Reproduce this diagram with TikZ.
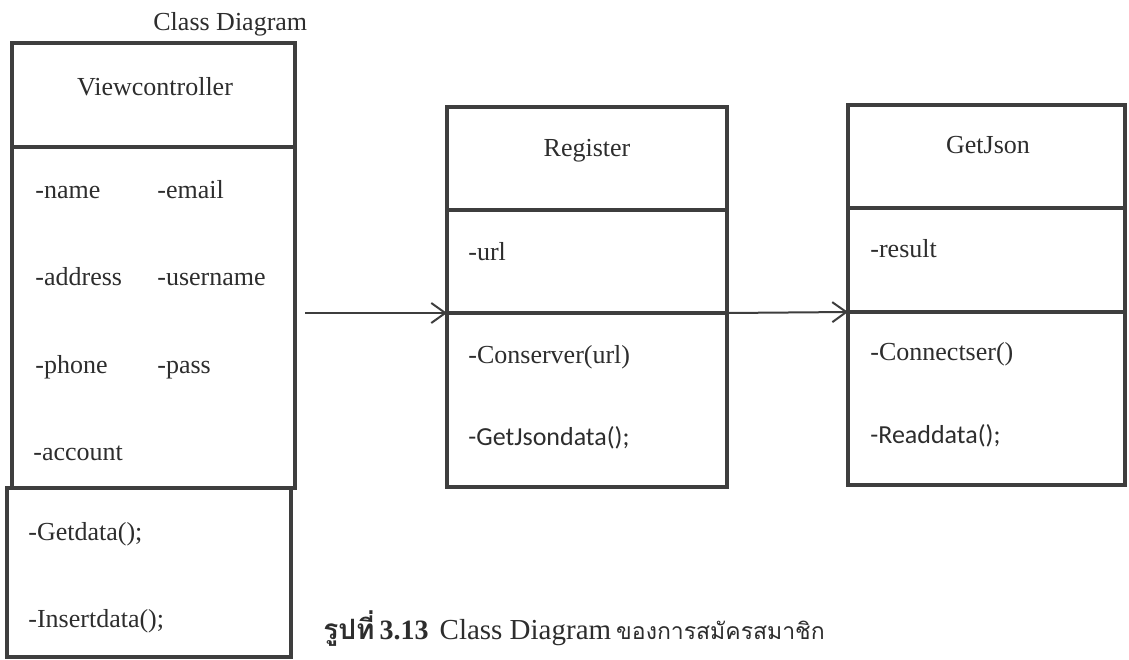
\documentclass[tikz,border=0pt]{standalone}
\usepackage{fontspec}
\setmainfont{Liberation Serif}
\newfontfamily\calibrifont{Carlito}
\newfontfamily\thaifont[Script=Thai]{Loma}
\usepackage{tikz}
\usetikzlibrary{positioning,arrows.meta}
\definecolor{linegray}{RGB}{62,62,62}
\definecolor{inkgray}{RGB}{45,45,45}

\begin{document}
\begin{tikzpicture}[x=0.5pt,y=-0.5pt,
  part/.style={draw=linegray, line width=2.3pt, rectangle, outer sep=0pt, inner sep=0pt, anchor=north west},
  member/.style={anchor=base west, inner sep=0pt, text=inkgray, font=\fontsize{13}{15}\selectfont},
  title/.style={anchor=base, inner sep=0pt, text=inkgray, font=\fontsize{13}{15}\selectfont},
  link/.style={draw=linegray, line width=1pt, -{Straight Barb[length=7pt,width=10pt]}}]
\useasboundingbox (0,0) rectangle (1129,659);

% Viewcontroller
\node (vcHead) [part, minimum width=141.5pt, minimum height=52pt] at (12,43) {};
\node (vcAttr) [part, minimum width=141.5pt, minimum height=170.5pt, below=0pt of vcHead] {};
\node (vcOps) [part, minimum width=142pt, minimum height=84.5pt] at (7,488) {};

% Register
\node (regHead) [part, minimum width=140pt, minimum height=51.5pt] at (447,107) {};
\node (regAttr) [part, minimum width=140pt, minimum height=51.5pt, below=0pt of regHead] {};
\node (regOps) [part, minimum width=140pt, minimum height=87pt, below=0pt of regAttr] {};

% GetJson
\node (gjHead) [part, minimum width=138.5pt, minimum height=51.5pt] at (848,105) {};
\node (gjAttr) [part, minimum width=138.5pt, minimum height=52pt, below=0pt of gjHead] {};
\node (gjOps) [part, minimum width=138.5pt, minimum height=86.5pt, below=0pt of gjAttr] {};

% texts
\node (diagTitle) [member] at (153,30) {Class Diagram};
\node (vcName) [title] at (155,95) {Viewcontroller};
\node (vcName1) [member] at (35,198) {-name};
\node (vcEmail) [member] at (157,198) {-email};
\node (vcAddress) [member] at (35,285) {-address};
\node (vcUsername) [member] at (157,285) {-username};
\node (vcPhone) [member] at (35,373) {-phone};
\node (vcPass) [member] at (157,373) {-pass};
\node (vcAccount) [member] at (33,460) {-account};
\node (vcGetdata) [member] at (28,540) {-Getdata();};
\node (vcInsert) [member] at (28,627) {-Insertdata();};

\node (regName) [title] at (587,156) {Register};
\node (regUrl) [member] at (468,260) {-url};
\node (regConserver) [member] at (468,363) {-Conserver(url)};
\node (regGetJson) [member, font=\calibrifont\fontsize{13}{15}\selectfont] at (468,445) {-GetJsondata();};

\node (gjName) [title] at (988,153) {GetJson};
\node (gjResult) [member] at (870,257) {-result};
\node (gjConnect) [member] at (870,360) {-Connectser()};
\node (gjRead) [member, font=\calibrifont\fontsize{13}{15}\selectfont] at (870,443) {-Readdata();};

\node (caption) [anchor=base west, inner sep=0pt, text=inkgray] at (323,639) {{\thaifont\bfseries\fontsize{14}{16}\selectfont รูปที่} {\bfseries\fontsize{14}{16}\selectfont 3.13}\hspace{3pt} {\fontsize{14.5}{16}\selectfont Class Diagram} {\thaifont\fontsize{11.5}{14}\selectfont ของการสมัครสมาชิก}};

% arrows
\coordinate (vcOut) at (305,313);
\draw[link] (vcOut) -- (regOps.north west);
\draw[link] (regOps.north east) -- (gjOps.north west);
\end{tikzpicture}
\end{document}
